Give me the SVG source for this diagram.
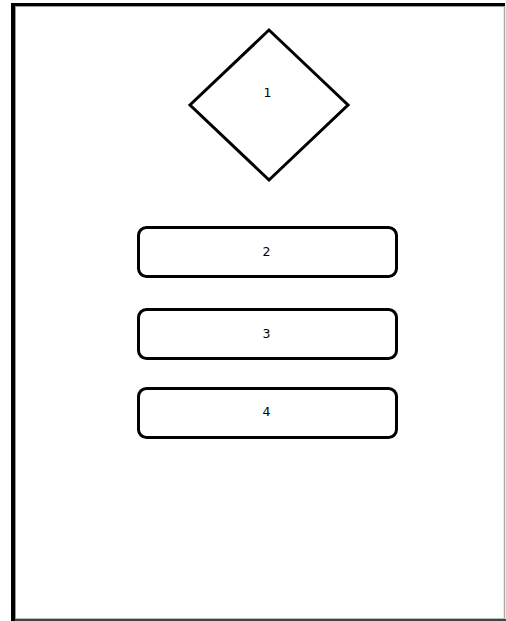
<svg xmlns="http://www.w3.org/2000/svg" width="506" height="621" viewBox="0 0 506 621">
<style>
.shape{fill:#fff;stroke:#000;stroke-width:3;}
.lbl{font-family:"DejaVu Sans","Liberation Sans",sans-serif;font-size:12.5px;fill:#000;text-anchor:middle;dominant-baseline:central;}
</style>
<rect x="0" y="0" width="506" height="621" fill="#fff"/>
<g id="frame">
<line x1="504.5" y1="4" x2="504.5" y2="621" stroke="#aaa" stroke-width="1.5"/>
<line x1="11" y1="620" x2="506" y2="620" stroke="#444" stroke-width="2"/>
<line x1="11" y1="618.5" x2="505" y2="618.5" stroke="#bbb" stroke-width="1"/>
<line x1="15.5" y1="6" x2="15.5" y2="619" stroke="#999" stroke-width="1"/>
<line x1="15" y1="6.5" x2="504" y2="6.5" stroke="#999" stroke-width="1"/>
<rect x="11" y="3" width="4" height="618" fill="#000"/>
<rect x="11" y="3" width="494" height="3" fill="#000"/>
</g>
<g id="node1">
<polygon class="shape" points="269,30 348,105 269,180 190,105"/>
<text class="lbl" x="267.5" y="92">1</text>
</g>
<g id="node2">
<rect class="shape" x="138.5" y="227.5" width="258" height="49" rx="8"/>
<text class="lbl" x="266.5" y="251">2</text>
</g>
<g id="node3">
<rect class="shape" x="138.5" y="309.5" width="258" height="49" rx="8"/>
<text class="lbl" x="266.5" y="333">3</text>
</g>
<g id="node4">
<rect class="shape" x="138.5" y="388.5" width="258" height="49" rx="8"/>
<text class="lbl" x="266.5" y="411">4</text>
</g>
<g id="connectors"></g>
</svg>
